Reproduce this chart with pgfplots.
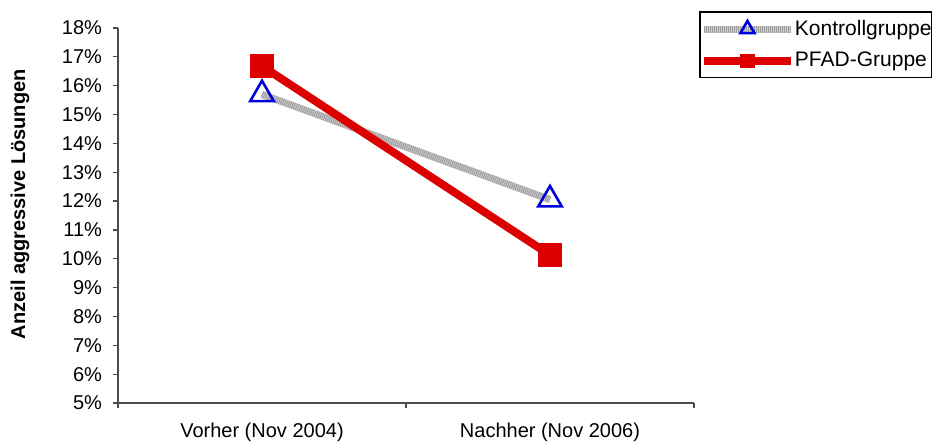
\documentclass[border=0pt]{standalone}
\usepackage{pgfplots}
\pgfplotsset{compat=1.18}
\usepackage{fontspec}
\setmainfont{Liberation Sans}
\definecolor{exred}{HTML}{DD0000}
\definecolor{exblue}{HTML}{0000DD}
\begin{document}
\begin{tikzpicture}
\useasboundingbox (-59pt,-20.5pt) rectangle (407.5pt,201.5pt);
\begin{axis}[
  at={(0,0)}, anchor=south west,
  scale only axis,
  width=288pt, height=187.5pt,
  xmin=-0.5, xmax=1.5,
  ymin=5, ymax=18,
  axis lines*=left,
  axis line style={black!70, line width=0.6pt},
  xtick={0,1},
  xticklabels={Vorher (Nov 2004),Nachher (Nov 2006)},
  minor xtick={-0.5,0.5,1.5},
  major x tick style={draw=none},
  minor x tick style={black!70, line width=0.6pt},
  ytick={5,6,...,18},
  yticklabel={\pgfmathprintnumber{\tick}\%},
  y tick style={black!70, line width=0.6pt},
  tick align=outside,
  major tick length=2.5pt,
  minor tick length=2.5pt,
  tick label style={font=\fontsize{10}{12}\selectfont},
  /pgf/number format/assume math mode=true,
  yticklabel style={xshift=-2pt},
  xticklabel style={yshift=-4pt},
  ylabel={\textbf{Anzeil aggressive Lösungen}},
  ylabel style={at={(axis description cs:-0.17,0.53)}, anchor=center, font=\fontsize{10}{12}\selectfont},
  clip=false,
  legend style={at={(1.0104,1.0427)}, anchor=north west, draw=black, line width=0.6pt,
    font=\fontsize{10.5}{12}\selectfont, inner xsep=0pt, inner ysep=3pt, row sep=5pt,
    outer sep=0pt, nodes={inner xsep=0pt, inner ysep=1pt},
    cells={anchor=west}},
  legend image code/.code={%
    \draw[#1, every mark/.append style={scale=0.6}, mark repeat=2, mark phase=2]
      plot coordinates {(0pt,0pt) (21.75pt,0pt) (43.5pt,0pt)};},
]
\addplot[gray!40, line width=3.5pt,
  postaction={draw, gray!75, line width=3.5pt, dash pattern=on 0.5pt off 0.5pt},
  mark=triangle, mark size=6.8pt,
  mark options={draw=exblue, fill=white, line width=1.3pt, solid}]
  coordinates {(0,15.7) (1,12.05)};
\addlegendentry{Kontrollgruppe}
\addplot[exred, line width=4pt, mark=square*, mark size=5.75pt,
  mark options={draw=exred, fill=exred, line width=0.5pt, solid}]
  coordinates {(0,16.68) (1,10.13)};
\addlegendentry{PFAD-Gruppe}
\end{axis}
\end{tikzpicture}
\end{document}
